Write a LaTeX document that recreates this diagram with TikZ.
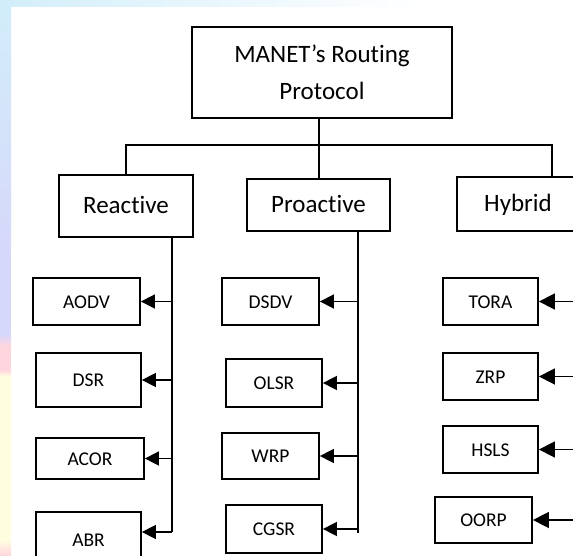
\documentclass[tikz,border=0pt]{standalone}
\usepackage{fontspec}
\setmainfont{Carlito}[Ligatures={NoCommon}]
\usetikzlibrary{arrows.meta}
\definecolor{bgcyan}{HTML}{D2EEFA}
\definecolor{bglav}{HTML}{D6D8FA}
\definecolor{bgpink}{HTML}{FFD6DE}
\definecolor{bgyel}{HTML}{FFFDE0}
\newcommand{\nl}{\kern0pt}
\tikzset{
  box/.style={draw, line width=1.8pt, rectangle, inner sep=0pt, align=center},
  topbox/.style={box, font=\fontsize{25}{37}\selectfont},
  onebox/.style={topbox, text height=16pt, text depth=1pt},
  leaf/.style={box, font=\fontsize{19.5}{22}\selectfont, text height=13pt, text depth=0pt},
  link/.style={line width=1.6pt},
  arr/.style={line width=1.6pt, -{Triangle[length=14pt,width=14pt]}},
  harr/.style={line width=1.6pt, -{Triangle[length=16pt,width=16pt]}}
}
\begin{document}
\begin{tikzpicture}[x=1pt,y=-1pt]
\useasboundingbox (0,0) rectangle (573,556);
\clip (0,0) rectangle (573,556);
% background
\fill[white] (0,0) rectangle (573,556);
\shade[left color=bgcyan, right color=white] (0,0) rectangle (420,7);
\shade[top color=bgcyan, bottom color=bglav] (0,0) rectangle (11,250);
\fill[bglav] (0,250) rectangle (11,334);
\shade[top color=bglav, bottom color=bgpink] (0,334) rectangle (11,346);
\fill[bgpink] (0,346) rectangle (11,370);
\shade[top color=bgpink, bottom color=bgyel] (0,370) rectangle (11,376);
\fill[bgyel] (0,376) rectangle (11,540);
\shade[top color=bgyel, bottom color=bgpink] (0,540) rectangle (11,556);
% top level
\node[topbox, minimum width=260pt, minimum height=91pt] (main) at (322,72.5) {MANET’s Rout\nl ing\\Protocol};
\node[onebox, minimum width=134pt, minimum height=62pt] (rea) at (126,206) {React\nl ive};
\node[onebox, minimum width=143pt, minimum height=52pt] (pro) at (318.5,205) {Proact\nl ive};
\node[onebox, minimum width=122pt, minimum height=54pt] (hyb) at (518,204) {Hybrid};
% leaves
\node[leaf, minimum width=107pt, minimum height=47pt] (aodv) at (86.5,301.5) {AODV};
\node[leaf, minimum width=105pt, minimum height=54pt] (dsr) at (88.5,380) {DSR};
\node[leaf, minimum width=108pt, minimum height=41pt] (acor) at (90,458.5) {ACOR};
\node[leaf, minimum width=105pt, minimum height=56pt] (abr) at (88.5,540) {ABR};
\node[leaf, minimum width=97pt, minimum height=47pt] (dsdv) at (270.5,301.5) {DSDV};
\node[leaf, minimum width=96pt, minimum height=48pt] (olsr) at (274,383) {OLSR};
\node[leaf, minimum width=97pt, minimum height=46pt] (wrp) at (270.5,456) {WRP};
\node[leaf, minimum width=96pt, minimum height=48pt] (cgsr) at (274,529) {CGSR};
\node[leaf, minimum width=95pt, minimum height=47pt] (tora) at (490.5,301.5) {TORA};
\node[leaf, minimum width=95pt, minimum height=47pt] (zrp) at (490.5,376.5) {ZRP};
\node[leaf, minimum width=95pt, minimum height=47pt] (hsls) at (490.5,449.5) {HSLS};
\node[leaf, minimum width=97pt, minimum height=46pt] (oorp) at (483.5,520) {OORP};
% junctions
\coordinate (mj) at (319,145);
\coordinate (hj) at (552,145);
\coordinate (rv) at (172,532);
\coordinate (pv) at (358,533);
\coordinate (hv) at (590,300);
% tree
\draw[link] (main.south -| mj) -- (mj |- pro.north);
\draw[link] (rea.north) |- (hj) -- (hj |- hyb.north);
\draw[link] (rea.south -| rv) -- (rv);
\draw[link] (pro.south -| pv) -- (pv);
% arrows
\draw[arr] (rv |- aodv.east) -- (aodv.east);
\draw[arr] (rv |- dsr.east) -- (dsr.east);
\draw[arr] (rv |- acor.east) -- (acor.east);
\draw[arr] (rv) -- (rv -| abr.east);
\draw[arr] (pv |- dsdv.east) -- (dsdv.east);
\draw[arr] (pv |- olsr.east) -- (olsr.east);
\draw[arr] (pv |- wrp.east) -- (wrp.east);
\draw[arr] (pv |- cgsr.east) -- (cgsr.east);
\draw[harr] (hv |- tora.east) -- (tora.east);
\draw[harr] (hv |- zrp.east) -- (zrp.east);
\draw[harr] (hv |- hsls.east) -- (hsls.east);
\draw[harr] (hv |- oorp.east) -- (oorp.east);
\end{tikzpicture}
\end{document}
